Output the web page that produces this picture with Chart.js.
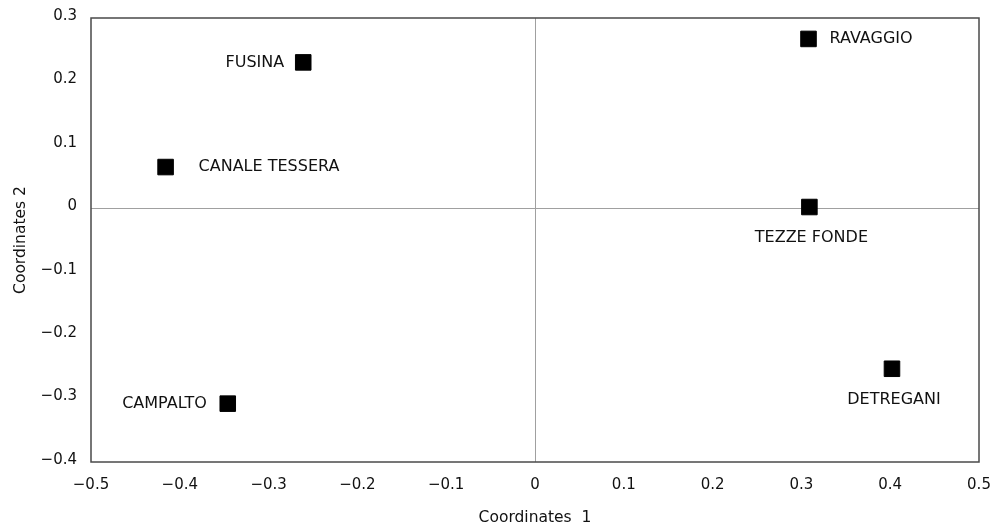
<!DOCTYPE html>
<html>
<head>
<meta charset="utf-8">
<script src="https://cdn.jsdelivr.net/npm/chart.js@4/dist/chart.umd.min.js"></script>
<style>
  html, body { margin: 0; padding: 0; background: #fff; }
  #wrap { width: 1005px; height: 528px; position: relative; }
</style>
</head>
<body>
<div id="wrap"><canvas id="c" width="1005" height="528"></canvas></div>
<script>
// Site names and their coordinates on the two ordination axes
const sites = ['FUSINA', 'CANALE TESSERA', 'CAMPALTO', 'RAVAGGIO', 'TEZZE FONDE', 'DETREGANI'];
const coord1 = [-0.261, -0.416, -0.346, 0.308, 0.309, 0.402];
const coord2 = [0.230, 0.065, -0.308, 0.267, 0.002, -0.253];

// Axis ranges and tick steps
const xTicks = [-0.5, -0.4, -0.3, -0.2, -0.1, 0, 0.1, 0.2, 0.3, 0.4, 0.5];
const yTicks = [-0.4, -0.3, -0.2, -0.1, 0, 0.1, 0.2, 0.3];

// Where each name sits relative to its marker, and how far away (px)
const labelPlace = {
  'FUSINA':         { side: 'left',  gap: 19 },
  'CANALE TESSERA': { side: 'right', gap: 33 },
  'CAMPALTO':       { side: 'left',  gap: 21 },
  'RAVAGGIO':       { side: 'right', gap: 21 },
  'TEZZE FONDE':    { side: 'below', gap: 31 },
  'DETREGANI':      { side: 'below', gap: 31 }
};

const FONT = 'DejaVu Sans';
const minus = v => (v < 0 ? '\u2212' + Math.abs(v) : String(v));

const points = sites.map((s, i) => ({ x: coord1[i], y: coord2[i], name: s }));

const frameAndLabels = {
  id: 'frameAndLabels',
  beforeDatasetsDraw(chart) {
    const { ctx, chartArea: a } = chart;
    ctx.save();
    ctx.strokeStyle = '#4a4a4a';
    ctx.lineWidth = 1.5;
    ctx.strokeRect(a.left, a.top, a.right - a.left, a.bottom - a.top);
    ctx.restore();
  },
  afterDatasetsDraw(chart) {
    const { ctx, scales } = chart;
    ctx.save();
    ctx.fillStyle = '#111';
    ctx.font = '16px "' + FONT + '"';
    ctx.textBaseline = 'middle';
    points.forEach(p => {
      const px = scales.x.getPixelForValue(p.x);
      const py = scales.y.getPixelForValue(p.y);
      const { side, gap } = labelPlace[p.name];
      if (side === 'left') {
        ctx.textAlign = 'right';
        ctx.fillText(p.name, px - gap, py);
      } else if (side === 'right') {
        ctx.textAlign = 'left';
        ctx.fillText(p.name, px + gap, py);
      } else {
        ctx.textAlign = 'center';
        ctx.fillText(p.name, px + 2, py + gap);
      }
    });
    ctx.restore();
  }
};

new Chart(document.getElementById('c'), {
  type: 'scatter',
  data: {
    datasets: [{
      data: points,
      pointStyle: 'rect',
      pointRadius: 11,
      pointHoverRadius: 11,
      backgroundColor: '#000',
      borderColor: '#000',
      borderWidth: 1
    }]
  },
  options: {
    responsive: false,
    animation: false,
    events: [],
    layout: { autoPadding: false, padding: { top: 18, right: 26, left: 0, bottom: 0 } },
    plugins: { legend: { display: false }, tooltip: { enabled: false } },
    scales: {
      x: {
        type: 'linear',
        min: xTicks[0], max: xTicks[xTicks.length - 1],
        afterBuildTicks: s => { s.ticks = xTicks.map(v => ({ value: v })); },
        afterFit: s => { s.height = 66; s.paddingLeft = 0; s.paddingRight = 0; },
        border: { display: false },
        grid: {
          drawTicks: false,
          lineWidth: 1,
          color: c => (c.tick && c.tick.value === 0 ? '#a0a0a0' : 'rgba(0,0,0,0)')
        },
        ticks: {
          padding: 14, color: '#111', maxRotation: 0,
          font: { family: FONT, size: 15 },
          callback: v => minus(v)
        },
        title: {
          display: true, text: 'Coordinates  1', color: '#111',
          font: { family: FONT, size: 15.5 },
          padding: { top: 0, bottom: 1 }
        }
      },
      y: {
        type: 'linear',
        min: yTicks[0], max: yTicks[yTicks.length - 1],
        afterBuildTicks: s => { s.ticks = yTicks.map(v => ({ value: v })); },
        afterFit: s => { s.width = 91; s.paddingTop = 0; s.paddingBottom = 0; },
        border: { display: false },
        grid: {
          drawTicks: false,
          lineWidth: 1,
          color: c => (c.tick && c.tick.value === 0 ? '#a0a0a0' : 'rgba(0,0,0,0)')
        },
        ticks: {
          padding: 14, color: '#111', labelOffset: -2,
          font: { family: FONT, size: 15 },
          callback: v => minus(v)
        },
        title: {
          display: true, text: 'Coordinates 2', color: '#111',
          font: { family: FONT, size: 15.5 },
          padding: { top: 12, bottom: 0 }
        }
      }
    }
  },
  plugins: [frameAndLabels]
});
</script>
</body>
</html>
